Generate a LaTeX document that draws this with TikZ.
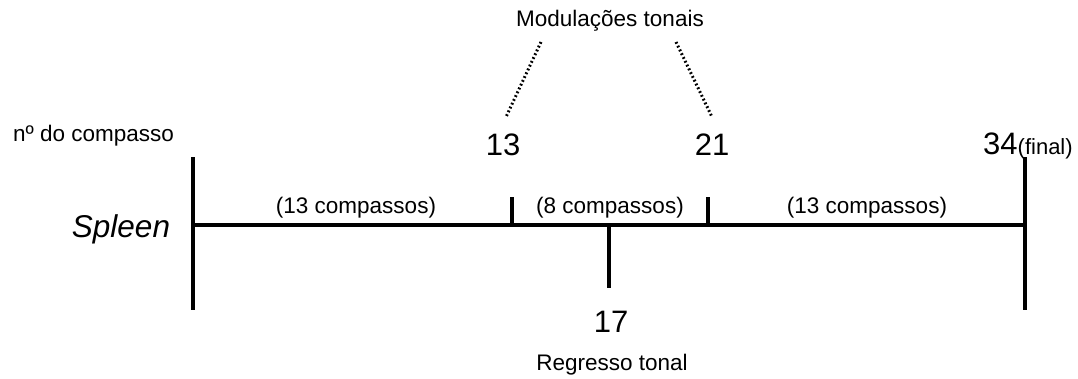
\documentclass[tikz,border=0pt]{standalone}
\usepackage{fontspec}
\setmainfont{Liberation Sans}
\begin{document}
\begin{tikzpicture}[x=1pt,y=-1pt,
  lbl/.style={inner sep=0pt,anchor=base,font=\fontsize{22.5}{27}\selectfont},
  num/.style={inner sep=0pt,anchor=base,font=\fontsize{31}{36}\selectfont},
  bar/.style={line width=4pt,line cap=butt},
  dots/.style={line width=3pt,dash pattern=on 1.8pt off 2.4pt}]
\useasboundingbox (0,0) rectangle (1078,378);
% labels
\node[lbl] (mod) at (610,26) {Modulações tonais};
\node[lbl,anchor=base west] (ndc) at (13,141) {nº do compasso};
\node[num] (n13) at (503,155) {13};
\node[num] (n21) at (712,155) {21};
\node[num,anchor=base west] (n34) at (983,154) {34{\fontsize{22}{26}\selectfont(final)}};
\node[num,font=\fontsize{31.5}{36}\selectfont\itshape] (spl) at (121,237) {Spleen};
\node[lbl] (c1) at (356,213) {(13 compassos)};
\node[lbl] (c2) at (610,213) {(8 compassos)};
\node[lbl] (c3) at (867,213) {(13 compassos)};
\node[num] (n17) at (611,332) {17};
\node[lbl] (reg) at (612,370) {Regresso tonal};
% coordinates
\coordinate (Lt) at (193,157); \coordinate (Lb) at (193,310);
\coordinate (Rt) at (1025,157); \coordinate (Rb) at (1025,310);
\coordinate (Lm) at (193,225); \coordinate (Rm) at (1025,225);
\coordinate (t13) at (512,197); \coordinate (b13) at (512,225);
\coordinate (t21) at (708,197); \coordinate (b21) at (708,225);
\coordinate (t17) at (609,225); \coordinate (b17) at (609,288);
\coordinate (d1a) at (541,42); \coordinate (d1b) at (506,117);
\coordinate (d2a) at (676,42); \coordinate (d2b) at (712,117);
% lines
\draw[bar] (Lt) -- (Lb);
\draw[bar] (Rt) -- (Rb);
\draw[bar] (Lm) -- (Rm);
\draw[bar] (t13) -- (b13);
\draw[bar] (t21) -- (b21);
\draw[bar] (t17) -- (b17);
\draw[dots] (d1a) -- (d1b);
\draw[dots] (d2a) -- (d2b);
\end{tikzpicture}
\end{document}
